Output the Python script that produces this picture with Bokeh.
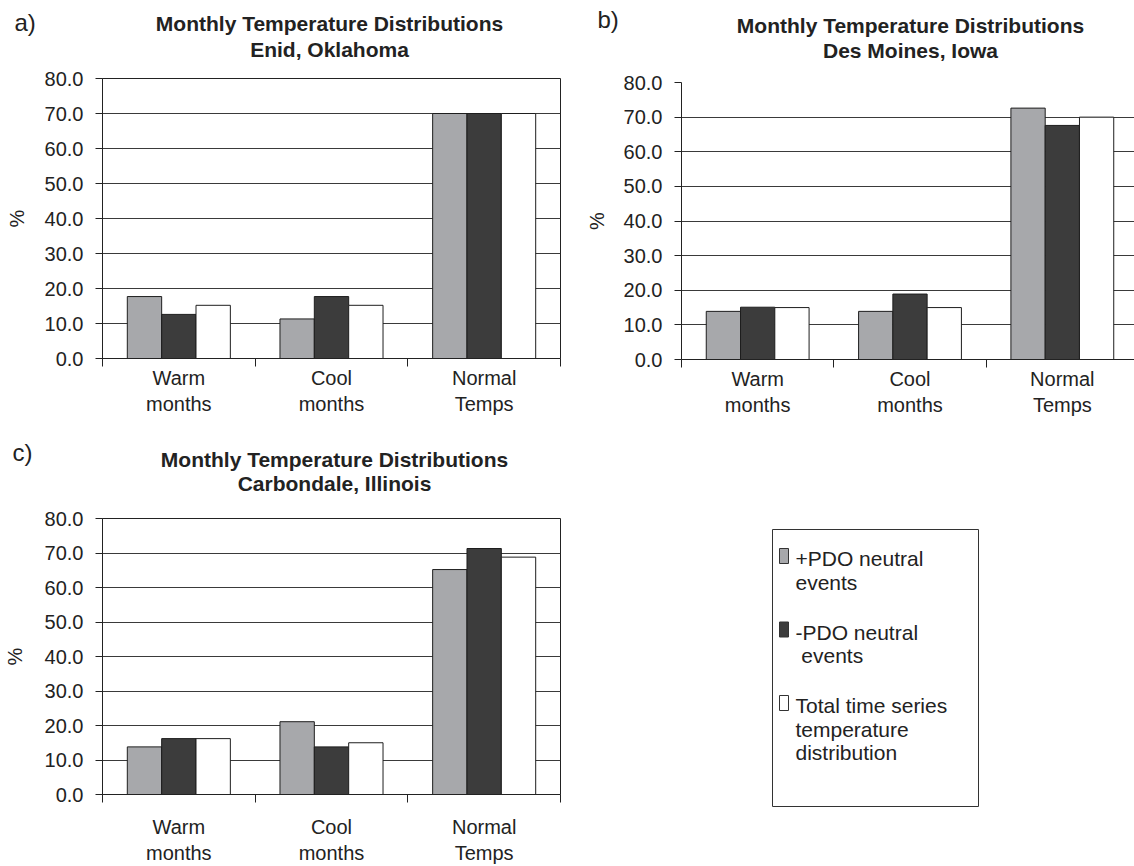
from bokeh.plotting import figure
from bokeh.models import (Range1d, FixedTicker, PrintfTickFormatter,
                          CustomJSTickFormatter, ColumnDataSource)
from bokeh.transform import dodge
from bokeh.layouts import column, row
from bokeh.embed import file_html
from bokeh.resources import INLINE
from bokeh.core.properties import value

# ---------------- data ----------------
categories = ["Warm months", "Cool months", "Normal Temps"]
tick_labels = ["Warm\nmonths", "Cool\nmonths", "Normal\nTemps"]
series_names = ["+PDO neutral events", "-PDO neutral events",
                "Total time series temperature distribution"]
legend_labels = ["+PDO neutral\nevents", "-PDO neutral\n events",
                 "Total time series\ntemperature\ndistribution"]
series_colors = ["#A7A8AB", "#3C3C3C", "#FFFFFF"]

title_main = "Monthly Temperature Distributions"
cities = ["Enid, Oklahoma", "Des Moines, Iowa", "Carbondale, Illinois"]
panel_tags = ["a)", "b)", "c)"]
y_axis_label = "%"
y_ticks = [0, 10, 20, 30, 40, 50, 60, 70, 80]

enid_plus = [17.7, 11.3, 70.0]
enid_minus = [12.6, 17.7, 70.0]
enid_total = [15.2, 15.2, 70.0]

desmoines_plus = [13.9, 13.9, 72.6]
desmoines_minus = [15.1, 18.9, 67.6]
desmoines_total = [15.0, 15.0, 70.0]

carbondale_plus = [13.8, 21.1, 65.2]
carbondale_minus = [16.2, 13.8, 71.3]
carbondale_total = [16.2, 15.0, 68.8]

FONT = "Liberation Sans"
INK = "#222222"
BAR_W = 0.225


def no_align(fig):
    try:
        fig.frame_align = False
    except Exception:
        pass
    return fig


def make_header(W, H, tag, tag_xy, city, tcx, t1y, t2y):
    h = figure(width=W, height=H, output_backend="svg", toolbar_location=None,
               title=None, x_range=Range1d(0, W), y_range=Range1d(H, 0),
               x_axis_location=None, y_axis_location=None, min_border=0)
    no_align(h)
    h.outline_line_color = None
    h.grid.visible = False
    h.text(x=[tag_xy[0]], y=[tag_xy[1]], text=[tag], text_align="left",
           text_baseline="top", text_font=value(FONT), text_font_size="24px",
           text_color=INK)
    h.text(x=[tcx, tcx], y=[t1y, t2y], text=[title_main, city],
           text_align="center", text_baseline="middle", text_font=value(FONT),
           text_font_style="bold", text_font_size="21px", text_color=INK)
    return h


def make_panel(plus, minus, total, W, H, bl, br, bt, bb, x_end, outline,
               xstand, ylab_stand):
    p = figure(width=W, height=H, output_backend="svg", toolbar_location=None,
               title=None, x_range=Range1d(0, x_end), y_range=Range1d(0, 80),
               min_border_left=bl, min_border_right=br,
               min_border_top=bt, min_border_bottom=bb)
    no_align(p)
    p.background_fill_color = "white"
    p.border_fill_color = "white"
    p.outline_line_color = "#222222" if outline else None
    p.outline_line_width = 1

    src = ColumnDataSource(dict(
        x=[i + 0.5 for i in range(len(categories))],
        cat=categories, plus=plus, minus=minus, total=total))
    for off, col, color in zip([-BAR_W, 0.0, BAR_W], ["plus", "minus", "total"],
                               series_colors):
        p.vbar(x=dodge("x", off), top=col, bottom=0, width=BAR_W, source=src,
               fill_color=color, line_color="#1e1e1e", line_width=1)

    xa = p.xaxis[0]
    xa.ticker = FixedTicker(ticks=[i + 0.5 for i in range(len(categories))],
                            minor_ticks=list(range(len(categories) + 1)))
    xa.formatter = CustomJSTickFormatter(args=dict(labels=tick_labels), code="""
        const i = Math.floor(tick);
        return (i >= 0 && i < labels.length) ? labels[i] : '';
    """)
    xa.major_tick_out = 0
    xa.major_tick_in = 0
    xa.minor_tick_out = 8
    xa.minor_tick_in = 0
    xa.minor_tick_line_color = "#222222"
    xa.axis_line_color = "#222222"
    xa.major_label_text_font = FONT
    xa.major_label_text_font_size = "20px"
    xa.major_label_text_color = INK
    xa.major_label_standoff = xstand

    ya = p.yaxis[0]
    ya.ticker = FixedTicker(ticks=y_ticks)
    ya.formatter = PrintfTickFormatter(format="%.1f")
    ya.major_tick_out = 7
    ya.major_tick_in = 0
    ya.minor_tick_out = 0
    ya.minor_tick_in = 0
    ya.axis_line_color = "#222222"
    ya.major_tick_line_color = "#222222"
    ya.major_label_text_font = FONT
    ya.major_label_text_font_size = "20px"
    ya.major_label_text_color = INK
    ya.major_label_standoff = 12
    ya.axis_label = y_axis_label
    ya.axis_label_text_font = FONT
    ya.axis_label_text_font_size = "20px"
    ya.axis_label_text_font_style = "normal"
    ya.axis_label_text_color = INK
    ya.axis_label_standoff = ylab_stand

    p.xgrid.visible = False
    p.ygrid.ticker = FixedTicker(ticks=y_ticks)
    p.ygrid.grid_line_color = "#3a3a3a"
    p.ygrid.grid_line_width = 1
    return p


# ---- column 1 (x 0..570) ----
head_a = make_header(570, 62, panel_tags[0], (14, 8), cities[0], 329, 23, 49)
pa = make_panel(enid_plus, enid_minus, enid_total, 570, 358,
                102, 10, 16, 62, 3.0, True, 0, 14)
head_c = make_header(570, 82, panel_tags[2], (12, 18), cities[2], 334, 39, 63)
pc = make_panel(carbondale_plus, carbondale_minus, carbondale_total, 570, 364,
                100, 10, 16, 72, 3.0, True, 13, 16)

# ---- column 2 (x 570..1134) ----
head_b = make_header(564, 66, panel_tags[1], (27, 5), cities[1], 340, 25, 50)
pb = make_panel(desmoines_plus, desmoines_minus, desmoines_total, 564, 354,
                111, 0, 16, 61, 3.0 * (1134 - 681) / (1138 - 681), False, 0, 13)

# legend panel
LW, LH = 564, 446
box_l, box_r, box_t, box_b = 202, 408, 109, 386
bw, bh = box_r - box_l, box_b - box_t
pl = figure(width=LW, height=LH, output_backend="svg", toolbar_location=None,
            title=None, x_range=Range1d(0, bw), y_range=Range1d(bh, 0),
            x_axis_location=None, y_axis_location=None,
            min_border_left=box_l, min_border_right=LW - box_r,
            min_border_top=box_t, min_border_bottom=LH - box_b)
no_align(pl)
pl.outline_line_color = "#333333"
pl.outline_line_width = 1
pl.background_fill_color = "white"
pl.border_fill_color = "white"
pl.grid.visible = False

item_y0, item_step, line_step = 29.0, 73.5, 23.5
sw_x, sw_w, sw_h = 11.5, 9, 15
txt_x, txt_y, txt_s = [], [], []
for i, lab in enumerate(legend_labels):
    yi = item_y0 + item_step * i
    pl.rect(x=[sw_x], y=[yi - 2.5], width=sw_w, height=sw_h,
            fill_color=series_colors[i], line_color="#333333", line_width=1)
    for j, line in enumerate(lab.split("\n")):
        stripped = line.lstrip(" ")
        lead = len(line) - len(stripped)
        txt_x.append(23)
        txt_y.append(yi + line_step * j)
        txt_s.append("\u00a0" * lead + stripped)
pl.text(x=txt_x, y=txt_y, text=txt_s, text_align="left", text_baseline="middle",
        text_font=value(FONT), text_font_size="21px", text_color=INK)

layout = row(column(head_a, pa, head_c, pc), column(head_b, pb, pl))
open("out.html", "w").write(file_html(layout, INLINE))
